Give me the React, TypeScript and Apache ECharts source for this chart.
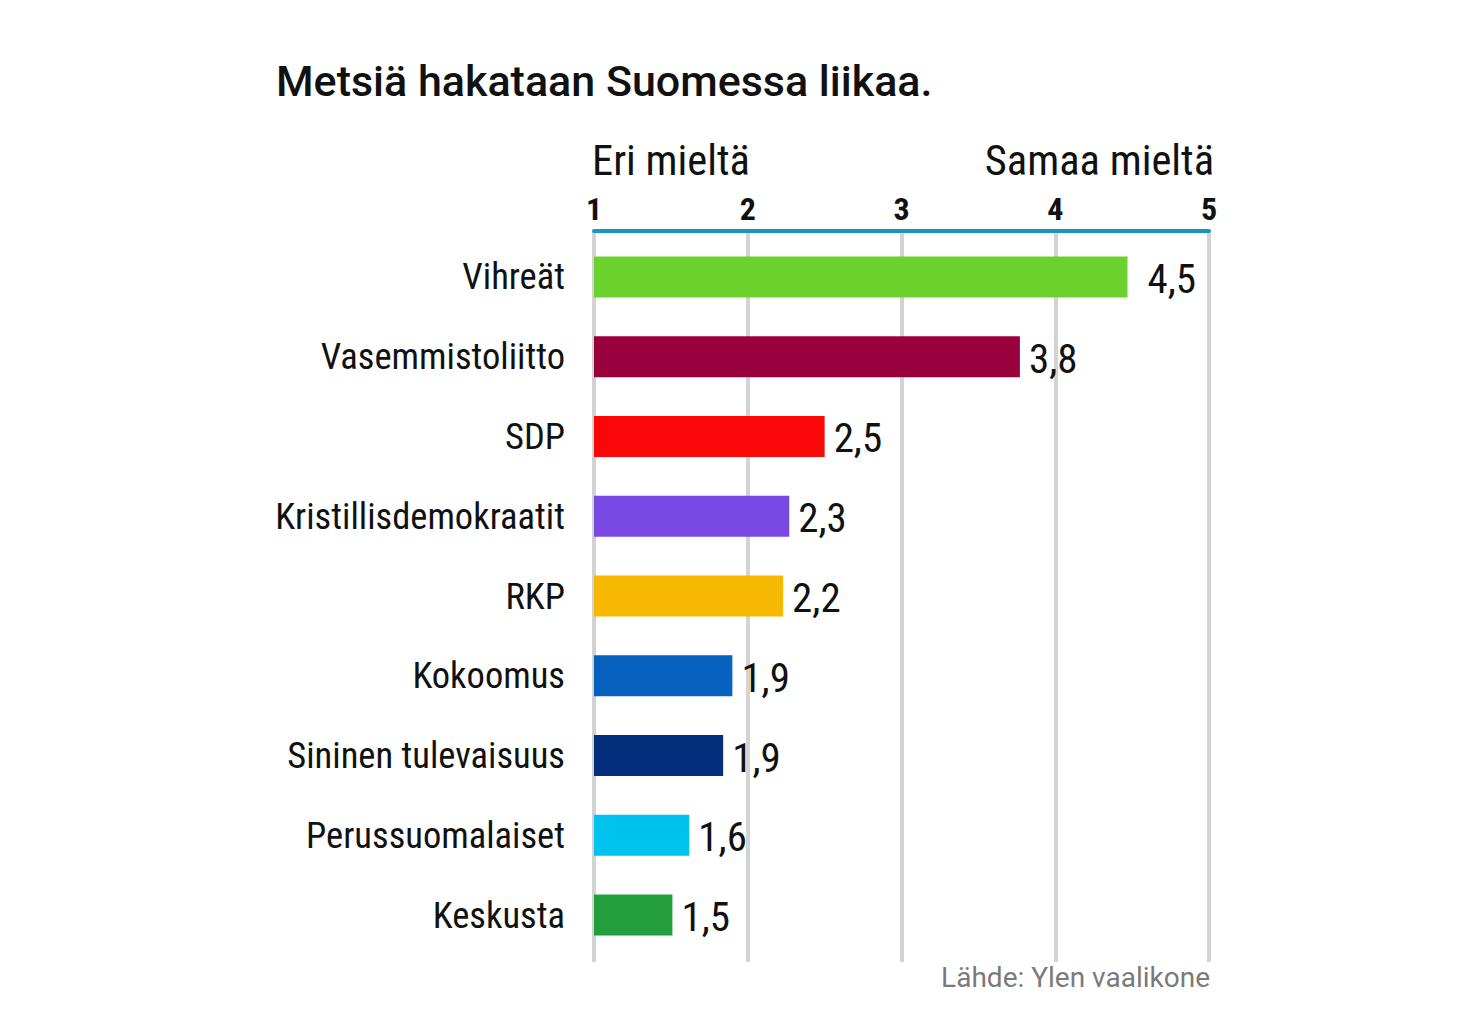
import React, { useEffect, useRef } from "react";
import * as echarts from "echarts";

const parties = [
  "Vihreät",
  "Vasemmistoliitto",
  "SDP",
  "Kristillisdemokraatit",
  "RKP",
  "Kokoomus",
  "Sininen tulevaisuus",
  "Perussuomalaiset",
  "Keskusta",
];
const values = [4.47, 3.77, 2.5, 2.27, 2.23, 1.9, 1.84, 1.62, 1.51];
const valueLabels = ["4,5", "3,8", "2,5", "2,3", "2,2", "1,9", "1,9", "1,6", "1,5"];
const colors = [
  "#6bd12c",
  "#9a003c",
  "#fa0808",
  "#7a48e4",
  "#f6b800",
  "#0661bf",
  "#022e7b",
  "#00c2ee",
  "#229e3c",
];
const tickValues = [1, 2, 3, 4, 5];

const COND = "'Roboto Condensed', 'Liberation Sans Narrow', 'DejaVu Sans Condensed', Roboto, sans-serif";

export default function App() {
  const ref = useRef<HTMLDivElement>(null);
  useEffect(() => {
    const chart = echarts.init(ref.current!, null, { renderer: "svg" });
    chart.setOption({
      animation: false,
      backgroundColor: "#ffffff",
      grid: [
        { left: 594, right: 271, top: 231, bottom: 66 },
        { left: 594, right: 271, top: 237, bottom: 73 },
      ],
      xAxis: [
        {
          gridIndex: 0,
          type: "value",
          position: "top",
          min: tickValues[0],
          max: tickValues[tickValues.length - 1],
          interval: 1,
          axisLine: { show: true, lineStyle: { color: "#1996c0", width: 4 } },
          axisTick: { show: false },
          axisLabel: {
            show: true,
            margin: 6,
            fontFamily: COND,
            fontWeight: "bold",
            fontSize: 32,
            color: "#111",
          },
          splitLine: { show: true, lineStyle: { color: "#d3d3d3", width: 4 } },
        },
        {
          gridIndex: 1,
          type: "value",
          min: tickValues[0],
          max: tickValues[tickValues.length - 1],
          show: false,
        },
      ],
      yAxis: [
        { gridIndex: 0, type: "category", data: parties, show: false, inverse: true },
        {
          gridIndex: 1,
          type: "category",
          data: parties,
          inverse: true,
          axisLine: { show: false },
          axisTick: { show: false },
          axisLabel: {
            margin: 29,
            fontFamily: COND,
            fontSize: 36.5,
            color: "#111",
          },
        },
      ],
      series: [
        { type: "bar", xAxisIndex: 0, yAxisIndex: 0, data: [], silent: true },
        {
          type: "bar",
          xAxisIndex: 1,
          yAxisIndex: 1,
          barWidth: 41,
          data: values.map((v, i) => ({
            value: v,
            itemStyle: { color: colors[i] },
            label: i === 0 ? { distance: 20 } : undefined,
          })),
          label: {
            show: true,
            position: "right",
            distance: 9,
            offset: [0, 2],
            fontFamily: COND,
            fontSize: 41,
            color: "#111",
            formatter: (p: any) => valueLabels[p.dataIndex],
          },
        },
      ],
      graphic: [
        {
          type: "text",
          left: 276,
          top: 59,
          style: {
            text: "Metsiä hakataan Suomessa liikaa.",
            fontFamily: "Roboto, sans-serif",
            fontWeight: 500,
            fontSize: 43,
            fill: "#111",
          },
        },
        {
          type: "text",
          left: 592,
          top: 139,
          style: {
            text: "Eri mieltä",
            fontFamily: COND,
            fontSize: 42.5,
            fill: "#111",
          },
        },
        {
          type: "text",
          right: 266,
          top: 139,
          style: {
            text: "Samaa mieltä",
            fontFamily: COND,
            fontSize: 42.5,
            fill: "#111",
          },
        },
        {
          type: "text",
          right: 270,
          top: 963,
          style: {
            text: "Lähde: Ylen vaalikone",
            fontFamily: "Roboto, sans-serif",
            fontSize: 28,
            fill: "#7a7a7a",
          },
        },
      ],
    });
    return () => chart.dispose();
  }, []);
  return <div ref={ref} style={{ width: 1480, height: 1028, margin: -8 }} />;
}
